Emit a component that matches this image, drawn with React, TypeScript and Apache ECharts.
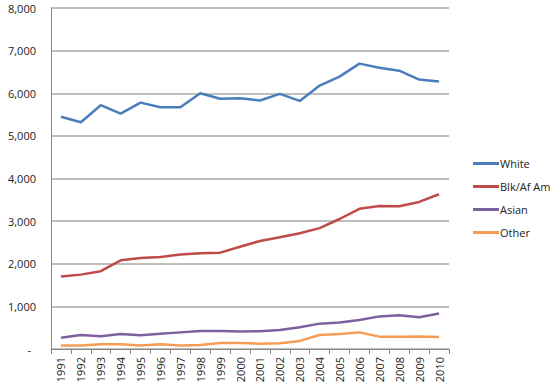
import React, { useEffect, useRef } from "react";
import * as echarts from "echarts";

const years = ["1991","1992","1993","1994","1995","1996","1997","1998","1999","2000","2001","2002","2003","2004","2005","2006","2007","2008","2009","2010"];
const white = [5450,5320,5720,5520,5780,5670,5670,6000,5870,5885,5830,5985,5820,6180,6390,6695,6600,6530,6320,6275];
const black = [1700,1745,1825,2080,2135,2160,2215,2245,2260,2400,2535,2620,2715,2835,3050,3290,3355,3350,3450,3630];
const asian = [265,330,300,350,320,360,390,420,420,410,415,445,510,595,620,680,765,790,745,835];
const other = [85,80,110,110,80,110,80,95,140,140,125,135,190,330,350,390,290,290,295,280];
const yTicks = [0,1000,2000,3000,4000,5000,6000,7000,8000];

const seriesDefs = [
  { name: "White", data: white, color: "#4A7EBB" },
  { name: "Blk/Af Am", data: black, color: "#BE4B48" },
  { name: "Asian", data: asian, color: "#7D60A0" },
  { name: "Other", data: other, color: "#F59D56" },
];

export default function App() {
  const ref = useRef<HTMLDivElement>(null);
  useEffect(() => {
    if (!ref.current) return;
    const chart = echarts.init(ref.current, undefined, { renderer: "svg" });
    const font = "'Open Sans', 'Noto Sans', sans-serif";
    chart.setOption({
      animation: false,
      backgroundColor: "#ffffff",
      grid: { left: 51, right: 104, top: 8, bottom: 43 },
      legend: {
        orient: "vertical",
        left: 468,
        top: 153,
        itemWidth: 26,
        itemHeight: 3,
        itemGap: 12,
        icon: "rect",
        textStyle: { fontFamily: font, fontSize: 11, color: "#222", padding: [0, 0, 0, -4] },
        data: seriesDefs.map((s) => s.name),
      },
      xAxis: {
        type: "category",
        data: years,
        boundaryGap: true,
        axisLine: { lineStyle: { color: "#868686", width: 1 } },
        axisTick: { show: true, alignWithLabel: false, length: 5, lineStyle: { color: "#868686" } },
        axisLabel: { rotate: 90, fontFamily: font, fontSize: 11, color: "#222", margin: 8, interval: 0 },
      },
      yAxis: {
        type: "value",
        min: 0,
        max: 8000,
        interval: 1000,
        axisLine: { show: true, lineStyle: { color: "#868686", width: 1 } },
        axisTick: { show: false },
        splitLine: { lineStyle: { color: "#ABABA3", width: 1.5 } },
        axisLabel: {
          fontFamily: font,
          fontSize: 11,
          color: "#222",
          margin: 15,
          formatter: (v: number) =>
            yTicks.includes(v) && v === 0 ? "{d|-}" : v.toLocaleString("en-US"),
          rich: { d: { fontFamily: font, fontSize: 11, color: "#222", padding: [0, 5, 0, 0] } },
        },
      },
      series: seriesDefs.map((s) => ({
        name: s.name,
        type: "line",
        data: s.data,
        showSymbol: false,
        symbol: "none",
        color: s.color,
        lineStyle: { width: 2.5, color: s.color },
      })),
    });
    return () => chart.dispose();
  }, []);
  return (
    <div
      ref={ref}
      style={{ position: "absolute", left: 0, top: 0, width: 553, height: 392 }}
    />
  );
}
